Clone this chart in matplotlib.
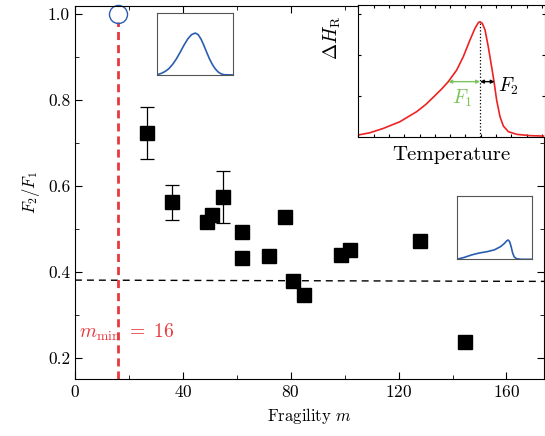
import matplotlib
matplotlib.use("Agg")
import matplotlib.pyplot as plt

plt.rcParams['font.family'] = 'serif'
plt.rcParams['font.serif'] = ['cmr10', 'DejaVu Serif']
plt.rcParams['mathtext.fontset'] = 'cm'
plt.rcParams['axes.formatter.use_mathtext'] = True
plt.rcParams['axes.unicode_minus'] = False

# main data: fragility m vs F2/F1
m = [26.7, 36.0, 48.9, 50.9, 54.7, 61.8, 61.8, 71.9, 78.0, 80.9, 84.9, 98.8, 101.9, 127.9, 144.6]
ratio = [0.723, 0.562, 0.516, 0.532, 0.575, 0.494, 0.432, 0.437, 0.528, 0.378, 0.346, 0.440, 0.451, 0.471, 0.236]
err_m = [26.7, 36.0, 54.7]
err_ratio = [0.723, 0.562, 0.575]
err_size = [0.06, 0.04, 0.06]
m_min = 16
hline_x = [0, 174]
hline_y = [0.381, 0.378]

# inset curves (normalized coordinates)
gauss_x = [0, .05, .1, .15, .2, .25, .3, .35, .4, .45, .5, .5375, .575, .6125, .65, .6875, .725, .7625, .8,
           .8375, .875, 1.0]
gauss_y = [.005, .025, .055, .10, .170, .259, .367, .481, .583, .654, .68, .654, .583, .481, .367, .259, .170,
           .10, .05, .02, .005, 0.0]
skew_x = [0.0, 0.1, 0.2, 0.3, 0.4, 0.5, 0.58, 0.63, 0.66, 0.68, 0.70, 0.72, 0.74, 0.76, 0.79, 0.85, 1.0]
skew_y = [0.0, 0.03, 0.07, 0.10, 0.12, 0.15, 0.20, 0.25, 0.29, 0.305, 0.28, 0.20, 0.10, 0.04, 0.01, 0.0, 0.0]
heat_x = [0.0, 0.0625, 0.134, 0.223, 0.3125, 0.36, 0.402, 0.445, 0.482, 0.527, 0.5625, 0.598, 0.625, 0.643,
          0.652, 0.664, 0.679, 0.696, 0.714, 0.727, 0.741, 0.759, 0.777, 0.804, 0.848, 0.92, 0.991]
heat_y = [0.013, 0.03, 0.063, 0.114, 0.19, 0.243, 0.300, 0.36, 0.418, 0.506, 0.608, 0.734, 0.823, 0.866,
          0.873, 0.861, 0.81, 0.684, 0.532, 0.418, 0.278, 0.152, 0.081, 0.038, 0.018, 0.008, 0.005]
peak_x = 0.652
arrow_y = 0.418
f1_left = 0.482
f2_right = 0.73

fig = plt.figure(figsize=(5.45, 4.36), dpi=100)
ax = fig.add_axes([0.1376, 0.13, 0.861, 0.857])

ax.errorbar(err_m, err_ratio, yerr=err_size, fmt='none', ecolor='black', elinewidth=0.9, capsize=5, capthick=0.9)
ax.plot(m, ratio, 's', color='black', markersize=9.5, zorder=3)
ax.plot(hline_x, hline_y, '--', color='black', linewidth=1.0, dashes=(5, 3.6))
ax.plot([m_min, m_min], [0.15, 0.983], '--', color='#e8383d', linewidth=2.0, dashes=(2.9, 1.8))
ax.plot([m_min], [1.0], 'o', markerfacecolor='none', markeredgecolor='#2a5db0', markersize=13, markeredgewidth=1.0,
        clip_on=False)
ax.text(1.5, 0.26, r'$m_{\mathrm{min}}\ =\ 16$', color='#e8383d', fontsize=14, va='center')

ax.set_xlim(0, 174)
ax.set_ylim(0.15, 1.02)
ax.set_xticks([0, 40, 80, 120, 160])
ax.set_xticks([20, 60, 100, 140], minor=True)
ax.set_yticks([0.2, 0.4, 0.6, 0.8, 1.0])
ax.set_yticks([0.3, 0.5, 0.7, 0.9], minor=True)
ax.set_yticklabels(['0.2', '0.4', '0.6', '0.8', '1.0'])
ax.tick_params(which='both', direction='in', top=True, right=True, labelsize=12.5)
ax.tick_params(which='major', length=5)
ax.tick_params(which='minor', length=3)
ax.set_xlabel('Fragility $m$', fontsize=12)
ax.set_ylabel('$F_2/F_1$', fontsize=12)

# small gaussian inset
ins1 = fig.add_axes([157.3 / 545, 1 - 75 / 436, 76 / 545, 61.7 / 436])
ins1.plot(gauss_x, gauss_y, color='#2a5db0', linewidth=1.2)
ins1.set_xlim(0, 1)
ins1.set_ylim(0, 1)
ins1.set_xticks([])
ins1.set_yticks([])
for s in ins1.spines.values():
    s.set_color('#555555')

# small skewed inset
ins3 = fig.add_axes([456.7 / 545, 1 - 259.3 / 436, 75.6 / 545, 63.3 / 436])
ins3.plot(skew_x, skew_y, color='#2a5db0', linewidth=1.2)
ins3.set_xlim(0, 1)
ins3.set_ylim(0, 1)
ins3.set_xticks([])
ins3.set_yticks([])
for s in ins3.spines.values():
    s.set_color('#555555')

# heat capacity inset
ins2 = fig.add_axes([358.3 / 545, 1 - 136.7 / 436, 186.7 / 545, 131.7 / 436])
ins2.plot(heat_x, heat_y, color='#ee2222', linewidth=1.2)
ins2.plot([peak_x, peak_x], [0, 0.873], ':', color='black', linewidth=0.9)
ins2.annotate('', xy=(f1_left, arrow_y), xytext=(peak_x, arrow_y),
              arrowprops=dict(arrowstyle='<|-|>', color='#7dc35b', lw=1.0, mutation_scale=5, shrinkA=0, shrinkB=0))
ins2.annotate('', xy=(f2_right, arrow_y), xytext=(peak_x, arrow_y),
              arrowprops=dict(arrowstyle='<|-|>', color='black', lw=1.0, mutation_scale=5, shrinkA=0, shrinkB=0))
ins2.text(0.75, 0.38, '$F_2$', fontsize=14, va='center')
ins2.text(0.50, 0.29, '$F_1$', fontsize=14, va='center', color='#7dc35b')
ins2.set_xlim(0, 1)
ins2.set_ylim(0, 1)
ins2.set_xticks([i * 0.082 for i in range(13)])
ins2.set_yticks([0.31, 0.62, 0.93])
ins2.set_xticklabels([])
ins2.set_yticklabels([])
ins2.tick_params(direction='in', length=2.5, top=True, right=True)
ins2.set_xlabel('Temperature', fontsize=15, labelpad=3)
ins2.set_ylabel(r'$\Delta H_{\mathrm{R}}$', fontsize=14)
ins2.yaxis.set_label_coords(-0.08, 0.75)

fig.savefig('out.png', dpi=100)
